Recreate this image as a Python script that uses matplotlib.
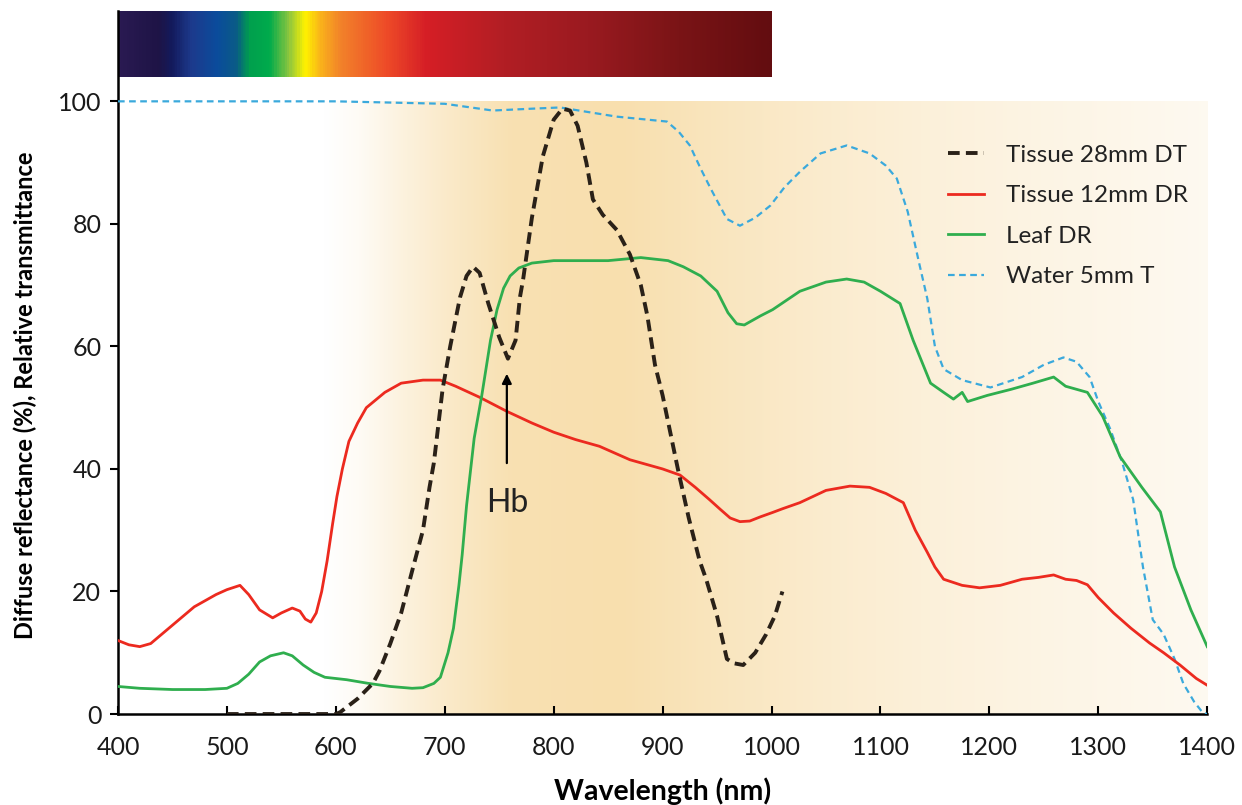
import numpy as np
import matplotlib
matplotlib.use('Agg')
import matplotlib.pyplot as plt
from matplotlib.colors import LinearSegmentedColormap, to_rgb

plt.rcParams['font.family'] = ['Lato', 'DejaVu Sans']

# Tissue 28mm DT (diffuse transmittance)
dt_wl = [500, 520, 540, 560, 580, 600, 604, 620, 634, 640, 650, 660, 671, 680, 686, 690,
         698, 705, 714, 720, 726, 732, 740, 750, 758, 765, 769, 772, 780, 790, 800, 808,
         815, 822, 830, 836, 845, 858, 870, 876, 880, 886, 893, 900, 914, 924, 934, 940,
         950, 959, 965, 974, 985, 995, 1003, 1010]
dt_val = [0, 0, 0, 0, 0, 0, 0.3, 2.5, 5, 7, 11.5, 16.5, 24, 30, 37, 41,
          53, 60, 68, 71.5, 73, 72, 67, 61.5, 58, 61, 68, 71, 81, 91, 97, 98.8,
          98.5, 96, 90, 84, 81.5, 79, 75, 72, 70, 65, 57, 52, 40, 32, 25, 22,
          16, 9, 8.3, 8, 10, 13, 16, 20]

# Tissue 12mm DR (diffuse reflectance)
dr_wl = [400, 410, 420, 430, 440, 450, 460, 470, 480, 490, 500, 512, 520, 530, 542, 550,
         560, 567, 572, 577, 582, 587, 592, 597, 601, 606, 612, 620, 628, 645, 660, 680,
         696, 710, 732, 757, 780, 800, 820, 842, 870, 900, 916, 930, 943, 953, 962, 971,
         980, 990, 1001, 1010, 1026, 1050, 1072, 1090, 1105, 1121, 1132, 1143, 1150, 1158,
         1175, 1191, 1210, 1230, 1245, 1259, 1270, 1280, 1290, 1300, 1314, 1330, 1347,
         1360, 1375, 1390, 1400]
dr_val = [12, 11.3, 11, 11.5, 13, 14.5, 16, 17.5, 18.5, 19.5, 20.3, 21, 19.5, 17, 15.7, 16.5,
          17.3, 16.8, 15.5, 15, 16.5, 20, 25, 31, 35.5, 40, 44.5, 47.5, 50, 52.5, 54, 54.5,
          54.5, 53.5, 51.7, 49.4, 47.5, 46, 44.8, 43.7, 41.5, 40, 39, 37, 35, 33.4, 32, 31.4,
          31.5, 32.2, 32.9, 33.5, 34.5, 36.5, 37.2, 37, 36, 34.5, 30, 26.4, 24, 22,
          21, 20.6, 21, 22, 22.3, 22.7, 22, 21.8, 21.1, 19, 16.5, 14, 11.6,
          10, 8, 5.8, 4.7]

# Leaf DR
leaf_wl = [400, 420, 450, 480, 500, 510, 520, 530, 540, 552, 560, 570, 580, 590, 610, 630,
           650, 670, 680, 690, 696, 703, 708, 713, 716, 720, 727, 734, 742, 748, 754, 760,
           768, 780, 800, 850, 880, 905, 919, 935, 950, 960, 968, 975, 990, 1001, 1026,
           1050, 1069, 1085, 1100, 1118, 1130, 1146, 1158, 1167, 1175, 1180, 1198, 1220,
           1240, 1259, 1270, 1290, 1304, 1320, 1340, 1357, 1370, 1385, 1400]
leaf_val = [4.5, 4.2, 4.0, 4.0, 4.2, 5, 6.5, 8.5, 9.5, 10, 9.5, 8, 6.8, 6, 5.6, 5,
            4.5, 4.2, 4.3, 5, 6, 10, 14, 21, 26, 34, 45, 52, 61, 66, 69.5, 71.5,
            72.8, 73.6, 74, 74, 74.5, 74, 73, 71.5, 69, 65.5, 63.7, 63.5, 65, 66, 69,
            70.5, 71, 70.5, 69, 67, 61, 54, 52.5, 51.4, 52.5, 51, 52, 53,
            54, 55, 53.5, 52.5, 48.6, 42, 37, 33, 24, 17, 11]

# Water 5mm T
water_wl = [400, 500, 600, 700, 744, 780, 806, 830, 858, 904, 915, 925, 935, 944, 959, 971,
            985, 999, 1012, 1026, 1045, 1069, 1090, 1105, 1115, 1125, 1135, 1143, 1150, 1158,
            1175, 1201, 1230, 1250, 1268, 1280, 1292, 1300, 1311, 1322, 1332, 1341, 1350,
            1360, 1370, 1378, 1388, 1396, 1400]
water_val = [100, 100, 100, 99.6, 98.5, 98.8, 99, 98.3, 97.5, 96.7, 95, 92.8, 89, 85.8, 80.8, 79.7,
             81, 83, 86, 88.5, 91.5, 92.8, 91.5, 89.5, 87.4, 82, 74, 67.8, 60, 56.3,
             54.5, 53.3, 55, 57, 58.2, 57.5, 55, 51, 46.5, 41, 35, 24, 15.4,
             13, 9, 5, 2, 0.2, 0]

x_ticks = [400, 500, 600, 700, 800, 900, 1000, 1100, 1200, 1300, 1400]
y_ticks = [0, 20, 40, 60, 80, 100]

fig = plt.figure(figsize=(12.42, 8.05), dpi=100)
ax = fig.add_axes([0.095, 0.113, 0.877, 0.873])

# warm background shading (NIR window)
bg_x = np.linspace(400, 1400, 500)
bg_w = np.interp(bg_x, [400, 590, 620, 660, 700, 760, 860, 950, 1050, 1150, 1250, 1400],
                 [0, 0, 0.12, 0.4, 0.65, 0.95, 1.0, 0.8, 0.6, 0.45, 0.33, 0.18])
peak = np.array(to_rgb('#f8dfae'))
bg = 1 - bg_w[:, None] * (1 - peak)
ax.imshow(bg[None, :, :], extent=(400, 1400, 0, 100), aspect='auto', zorder=0,
          interpolation='bilinear')

# visible spectrum bar
spec = LinearSegmentedColormap.from_list('spec', [
    (0.0, '#2a1a52'), (0.06, '#1e1446'), (0.08, '#131a5c'), (0.11, '#1d3a8c'),
    (0.15, '#0b4c9c'), (0.18, '#0a5c86'), (0.20, '#00a04e'), (0.23, '#00ab4c'),
    (0.26, '#8cc63f'), (0.285, '#fff200'), (0.31, '#f9b01c'), (0.34, '#f2822a'),
    (0.41, '#ee4b28'), (0.47, '#d61f26'), (0.59, '#b21e24'), (0.72, '#9a1a20'),
    (0.86, '#7a1416'), (1.0, '#630d10')])
ax.imshow(np.linspace(0, 1, 600)[None, :], cmap=spec, extent=(400, 1000, 104, 114.7),
          aspect='auto', zorder=1)

ax.plot(water_wl, water_val, color='#3aa9dc', lw=1.6, dashes=(3, 2), label='Water 5mm T', zorder=3)
ax.plot(dr_wl, dr_val, color='#ec2a1f', lw=2.0, label='Tissue 12mm DR', zorder=3)
ax.plot(leaf_wl, leaf_val, color='#2fae4e', lw=2.0, label='Leaf DR', zorder=3)
ax.plot(dt_wl, dt_val, color='#2a2118', lw=2.8, dashes=(3, 1.6), label='Tissue 28mm DT', zorder=4)

ax.annotate('', xy=(757, 56), xytext=(757, 40.5),
            arrowprops=dict(arrowstyle='-|>', color='black', lw=1.6, mutation_scale=14))
ax.text(757, 34.5, 'Hb', ha='center', va='center', fontsize=23, color='#222222')

ax.set_xlim(400, 1400)
ax.set_ylim(0, 114.7)
ax.set_xticks(x_ticks)
ax.set_yticks(y_ticks)
ax.tick_params(axis='x', direction='in', length=6, width=1.5, labelsize=18, pad=16,
               labelcolor='#1a1a1a')
ax.tick_params(axis='y', direction='out', length=6, width=1.5, labelsize=18, pad=6,
               labelcolor='#1a1a1a')
for s in ['top', 'right']:
    ax.spines[s].set_visible(False)
for s in ['left', 'bottom']:
    ax.spines[s].set_linewidth(1.8)

ax.set_xlabel('Wavelength (nm)', fontsize=20.5, fontweight='bold', labelpad=13)
ax.set_ylabel('Diffuse reflectance (%), Relative transmittance', fontsize=17, fontweight='bold')
ax.yaxis.set_label_coords(-0.074, 52 / 114.7)

h, l = ax.get_legend_handles_labels()
order = [3, 1, 2, 0]
ax.legend([h[i] for i in order], [l[i] for i in order], loc='upper left',
          bbox_to_anchor=(0.762, 0.81), frameon=False, fontsize=17.5, handlelength=1.5,
          labelspacing=0.8, borderaxespad=0, borderpad=0, handletextpad=0.9,
          labelcolor='#222222')

fig.savefig('out.png', dpi=100)
